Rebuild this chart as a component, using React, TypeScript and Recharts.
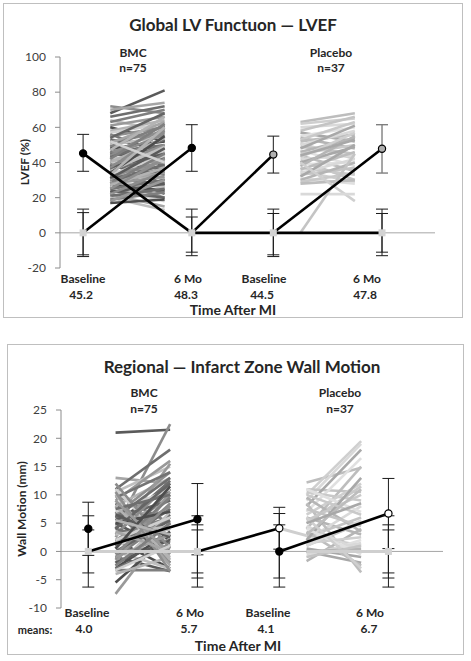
import { ComposedChart, Line, Scatter, ErrorBar, XAxis, YAxis, ReferenceLine } from 'recharts';

const lvefTicks = [-20, 0, 20, 40, 60, 80, 100];
const wmTicks = [-10, -5, 0, 5, 10, 15, 20, 25];
const timeLabels = ['Baseline', '6 Mo', 'Baseline', '6 Mo'];
const meanX = [1, 5, 8, 12];
const lvefMeans = [45.2, 48.3, 44.5, 47.8];
const wmMeans = [4.0, 5.7, 4.1, 6.7];

// individual patients, LVEF %
const bmcLvefBase = [68, 72, 70, 66, 64, 63, 61, 60, 58, 57, 56, 55, 54, 53, 52, 51, 50, 50, 49, 48, 48, 47, 46, 46, 45, 45, 44, 44, 43, 43, 42, 42, 41, 40, 40, 39, 39, 38, 38, 37, 37, 36, 36, 35, 35, 34, 34, 33, 33, 32, 32, 31, 31, 30, 30, 29, 29, 28, 28, 27, 27, 26, 25, 25, 24, 23, 22, 22, 21, 20, 19, 18, 17, 33, 52];
const bmcLvef6mo = [81, 68, 74, 72, 58, 70, 66, 52, 64, 62, 45, 60, 68, 48, 57, 63, 38, 55, 61, 44, 52, 66, 35, 50, 59, 42, 48, 56, 30, 53, 46, 62, 40, 36, 54, 47, 28, 50, 33, 45, 58, 25, 43, 49, 22, 38, 55, 31, 44, 27, 41, 36, 48, 20, 34, 39, 26, 45, 32, 24, 37, 18, 30, 42, 20, 28, 35, 15, 25, 13, 23, 30, 19, 60, 40];
const placLvefBase = [63, 62, 60, 58, 57, 55, 54, 53, 52, 51, 50, 49, 48, 47, 46, 45, 44, 43, 42, 41, 40, 39, 38, 37, 36, 35, 34, 33, 32, 31, 30, 29, 28, 40, 22, 0, 44];
const placLvef6mo = [68, 65, 62, 66, 52, 60, 48, 63, 56, 42, 58, 45, 61, 38, 54, 50, 35, 57, 44, 30, 49, 40, 55, 33, 46, 29, 42, 37, 50, 28, 40, 34, 30, 18, 22, 45, 53];

// individual patients, wall motion mm
const bmcWmBase = [21, 4, 13, 11, 10.5, 10, 9, 8.5, 8, 7.5, 7, 6.5, 6, 5.5, 5, 4.5, 4, 3.5, 3, 2.5, 2, 1.5, 1, 0.5, 0, -0.5, -1, -1.5, -2, -2.5, -3, -3.3, -7.5, -5.5, -4, 11, 9.5, 8, 6, 5, 3, 2, 1, 0, -1, -2, -3, 10, 7, 4, 2, 0, -2, 12, 9, 6, 3, 1, -1, 5, 8, 2, -3, 10.5, 4, 6.5, -0.5, 3.5, 7.5, 1.5, -2.5, 9, 0.5, 5.5, -3.3];
const bmcWm6mo = [21.5, 22.5, 12, 18, 15, 5, 16, 2, 13, 10, -2, 14, 7, 11, 0, 9, 12.5, 3, 6, 15.5, -3, 8, 4, 11, 1, 6.5, -3.5, 10, 2.5, 5, 7, -3.3, 5, 3, -1, 1, 14, -2, 9, 0, 12, 4, 7.5, -3, 6, 10.5, 3.5, -1.5, 11, 1.5, 8, 5.5, 2, 0.5, -2.5, 13, 4.5, 9.5, 3, 7, -1, 6, 1, -3.5, 12, 2.5, 8.5, 0, 10, 4, 5, -0.5, 11.5, 3, 1];
const placWmBase = [12.2, 10, 9, 11, 8, 7, 6, 5, 4, 3, 2, 1, 0, -1, -1.7, 10.5, 8.5, 6.5, 4.5, 2.5, 0.5, 11, 9.5, 5.5, 3.5, 1.5, -0.5, 7.5, 2, 4, 0, 10, 3, 6, 1, -1, 5];
const placWm6mo = [14.8, 19.5, 19, 10.5, 18, 16.5, 3, 11.5, 15, 1, 8, 5, -2, 2, 4, 9, -3.7, 12, 0, 6, -1, 7, 3.5, 10, -2.5, 2.5, 1.5, 4.5, 13, -0.5, 0.5, 6.5, 11, -3, 5.5, 1, 8.5];

// error bars: [x, centre, low, high]
const lvefErr = [
  [1, 45.2, 35, 56], [1, 0, -13.5, 13.5], [1, 0, -12.5, 11.5],
  [5, 48.3, 35, 61.5], [5, 0, -13, 13.5], [5, 0, -11, 9],
  [8, 44.5, 34, 55], [8, 0, -13.5, 13.5], [8, 0, -12.5, 11],
  [12, 0, -13, 13.5], [12, 0, -11, 11],
];
const lvefErrGray = [[12, 47.8, 34, 61.5]];
const wmErr = [
  [1, 4.0, -0.7, 8.7], [1, 0, -6.3, 6.3], [1, 0, -3.8, 3.8],
  [5, 5.7, -0.6, 12], [5, 0, -6.3, 6.3], [5, 0, -3.8, 3.8], [5, 0, -4.7, 4.7],
  [8, 4.1, 0.4, 7.8], [8, 0, -6.3, 6.7], [8, 0, -4.7, 4.7],
  [12, 6.7, 0.5, 12.9], [12, 0, -6.3, 6.3], [12, 0, -3.8, 3.8], [12, 0, -4.7, 4.7],
];

// black connectors: [x1, y1, x2, y2]
const lvefLinks = [[1, 45.2, 5, 0], [1, 0, 5, 48.3], [5, 0, 8, 44.5], [5, 0, 12, 0], [8, 0, 12, 47.8]];
const wmLinks = [[1, 0, 5, 5.7], [5, 0, 8, 4.1], [8, 0, 12, 6.7]];
const wmZeroLinks = [[1, 0, 5, 0], [9, 0, 12, 0], [8, 4.1, 9, 2.8]];

const darkGrays = ['#5a5a5a', '#8c8c8c', '#a6a6a6', '#6e6e6e', '#bfbfbf', '#7f7f7f', '#999999', '#4d4d4d', '#b3b3b3', '#d0d0d0', '#737373', '#8f8f8f', '#656565'];
const lightGrays = ['#bdbdbd', '#cfcfcf', '#d9d9d9', '#c4c4c4', '#a8a8a8', '#e0e0e0', '#b5b5b5', '#c9c9c9'];

const FONT = 'Lato, "Open Sans", sans-serif';

const seg = (a: number, b: number, c: number, d: number) => [{ x: a, y: b }, { x: c, y: d }];
const errRows = (rows: number[][]) => rows.map(([x, y, lo, hi]) => ({ x, y, err: [y - lo, hi - y] }));

const dot = (fill: string, stroke: string) => (p: any) => (
  <circle cx={p.cx} cy={p.cy} r={3.6} fill={fill} stroke={stroke} strokeWidth={1.2} />
);
const square = (p: any) => <rect x={p.cx - 3.5} y={p.cy - 3.5} width={7} height={7} fill="#d3d3d3" />;
const none = () => <g />;

function Spaghetti({ base, six, x0, x1, colors }: { base: number[]; six: number[]; x0: number; x1: number; colors: string[] }) {
  return (
    <>
      {base.map((v, i) => (
        <Line
          key={`s${x0}-${i}`}
          data={seg(x0, v, x1, six[i])}
          dataKey="y"
          stroke={colors[i % colors.length]}
          strokeWidth={2.6}
          dot={false}
          activeDot={false}
          isAnimationActive={false}
        />
      ))}
    </>
  );
}

function Txt({ x, y, children, size = 12, bold = true, rotate = false }: any) {
  return (
    <div
      style={{
        position: 'absolute',
        left: x,
        top: y,
        transform: `translate(-50%, -50%)${rotate ? ' rotate(-90deg)' : ''}`,
        fontFamily: FONT,
        fontSize: size,
        fontWeight: bold ? 700 : 400,
        color: '#262626',
        whiteSpace: 'nowrap',
        lineHeight: 1,
      }}
    >
      {children}
    </div>
  );
}

export default function App() {
  const tick = { fontSize: 12, fill: '#404040', fontFamily: FONT };
  return (
    <div style={{ position: 'absolute', left: 0, top: 0, width: 471, height: 661, background: '#fff', fontFamily: FONT }}>
      {/* top panel */}
      <div style={{ position: 'absolute', left: 3, top: 3, width: 460, height: 315, border: '1px solid #bfbfbf', boxSizing: 'border-box' }} />
      <div style={{ position: 'absolute', left: 0, top: 0 }}>
        <ComposedChart width={471} height={320} margin={{ top: 57, right: 36, bottom: 52, left: 0 }}>
          <XAxis dataKey="x" type="number" domain={[0.15, 13.95]} allowDataOverflow hide />
          <YAxis
            dataKey="y"
            type="number"
            domain={[-20, 100]}
            ticks={lvefTicks}
            allowDataOverflow
            width={60}
            tick={tick}
            tickSize={5}
            tickMargin={9}
            axisLine={{ stroke: '#8c8c8c' }}
            tickLine={{ stroke: '#8c8c8c' }}
          />
          <ReferenceLine y={0} stroke="#a6a6a6" strokeWidth={1} zIndex={50} />
          {Spaghetti({ base: bmcLvefBase, six: bmcLvef6mo, x0: 2, x1: 4, colors: darkGrays })}
          {Spaghetti({ base: placLvefBase, six: placLvef6mo, x0: 9, x1: 11, colors: lightGrays })}
          {lvefLinks.map(([a, b, c, d], i) => (
            <Line key={`l${i}`} data={seg(a, b, c, d)} dataKey="y" stroke="#000" strokeWidth={2.6} dot={false} activeDot={false} isAnimationActive={false} />
          ))}
          <Scatter data={errRows(lvefErr)} dataKey="y" shape={none} isAnimationActive={false}>
            <ErrorBar dataKey="err" direction="y" width={6} stroke="#1a1a1a" strokeWidth={1} />
          </Scatter>
          <Scatter data={errRows(lvefErrGray)} dataKey="y" shape={none} isAnimationActive={false}>
            <ErrorBar dataKey="err" direction="y" width={6} stroke="#7f7f7f" strokeWidth={1.4} />
          </Scatter>
          <Scatter data={meanX.map((x) => ({ x, y: 0 }))} dataKey="y" shape={square} isAnimationActive={false} />
          <Scatter data={[0, 1].map((i) => ({ x: meanX[i], y: lvefMeans[i] }))} dataKey="y" shape={dot('#000', '#000')} isAnimationActive={false} />
          <Scatter data={[2, 3].map((i) => ({ x: meanX[i], y: lvefMeans[i] }))} dataKey="y" shape={dot('#b0b0b0', '#000')} isAnimationActive={false} />
        </ComposedChart>
      </div>
      <Txt x={233} y={24} size={17}>Global LV Functuon — LVEF</Txt>
      <Txt x={133} y={53}>BMC</Txt>
      <Txt x={133} y={68}>n=75</Txt>
      <Txt x={331} y={53}>Placebo</Txt>
      <Txt x={331} y={68}>n=37</Txt>
      <Txt x={25} y={162} rotate>LVEF (%)</Txt>
      {timeLabels.map((t, i) => (
        <Txt key={`tt${i}`} x={[83, 188, 264, 367][i]} y={279}>{t}</Txt>
      ))}
      {lvefMeans.map((m, i) => (
        <Txt key={`tm${i}`} x={[81, 186, 262, 365][i]} y={295}>{m.toFixed(1)}</Txt>
      ))}
      <Txt x={233} y={310} size={14}>Time After MI</Txt>

      {/* bottom panel */}
      <div style={{ position: 'absolute', left: 7, top: 344, width: 457, height: 311, border: '1px solid #bfbfbf', boxSizing: 'border-box' }} />
      <div style={{ position: 'absolute', left: 0, top: 330 }}>
        <ComposedChart width={471} height={330} margin={{ top: 80, right: 28, bottom: 52, left: 0 }}>
          <XAxis dataKey="x" type="number" domain={[0, 14]} allowDataOverflow hide />
          <YAxis
            dataKey="y"
            type="number"
            domain={[-10, 25]}
            ticks={wmTicks}
            allowDataOverflow
            width={61}
            tick={tick}
            tickSize={5}
            tickMargin={9}
            axisLine={{ stroke: '#8c8c8c' }}
            tickLine={{ stroke: '#8c8c8c' }}
          />
          <ReferenceLine y={0} stroke="#a6a6a6" strokeWidth={1} zIndex={50} />
          {Spaghetti({ base: bmcWmBase, six: bmcWm6mo, x0: 2, x1: 4, colors: darkGrays })}
          {Spaghetti({ base: placWmBase, six: placWm6mo, x0: 9, x1: 11, colors: lightGrays })}
          {wmZeroLinks.map(([a, b, c, d], i) => (
            <Line key={`z${i}`} data={seg(a, b, c, d)} dataKey="y" stroke="#cfcfcf" strokeWidth={3} dot={false} activeDot={false} isAnimationActive={false} />
          ))}
          {wmLinks.map(([a, b, c, d], i) => (
            <Line key={`w${i}`} data={seg(a, b, c, d)} dataKey="y" stroke="#000" strokeWidth={2.6} dot={false} activeDot={false} isAnimationActive={false} />
          ))}
          <Scatter data={errRows(wmErr)} dataKey="y" shape={none} isAnimationActive={false}>
            <ErrorBar dataKey="err" direction="y" width={6} stroke="#1a1a1a" strokeWidth={1} />
          </Scatter>
          <Scatter data={[1, 5, 12].map((x) => ({ x, y: 0 }))} dataKey="y" shape={square} isAnimationActive={false} />
          <Scatter data={[{ x: 8, y: 0 }, ...[0, 1].map((i) => ({ x: meanX[i], y: wmMeans[i] }))]} dataKey="y" shape={dot('#000', '#000')} isAnimationActive={false} />
          <Scatter data={[2, 3].map((i) => ({ x: meanX[i], y: wmMeans[i] }))} dataKey="y" shape={dot('#fff', '#000')} isAnimationActive={false} />
        </ComposedChart>
      </div>
      <Txt x={242} y={366} size={17}>Regional — Infarct Zone Wall Motion</Txt>
      <Txt x={144} y={393}>BMC</Txt>
      <Txt x={144} y={409}>n=75</Txt>
      <Txt x={340} y={393}>Placebo</Txt>
      <Txt x={340} y={409}>n=37</Txt>
      <Txt x={22} y={509} rotate>Wall Motion (mm)</Txt>
      {timeLabels.map((t, i) => (
        <Txt key={`bt${i}`} x={[87, 190, 268, 370][i]} y={613}>{t}</Txt>
      ))}
      <Txt x={35} y={629} size={11}>means:</Txt>
      {wmMeans.map((m, i) => (
        <Txt key={`bm${i}`} x={[84, 189, 266, 369][i]} y={629}>{m.toFixed(1)}</Txt>
      ))}
      <Txt x={238} y={646} size={14}>Time After MI</Txt>
    </div>
  );
}
